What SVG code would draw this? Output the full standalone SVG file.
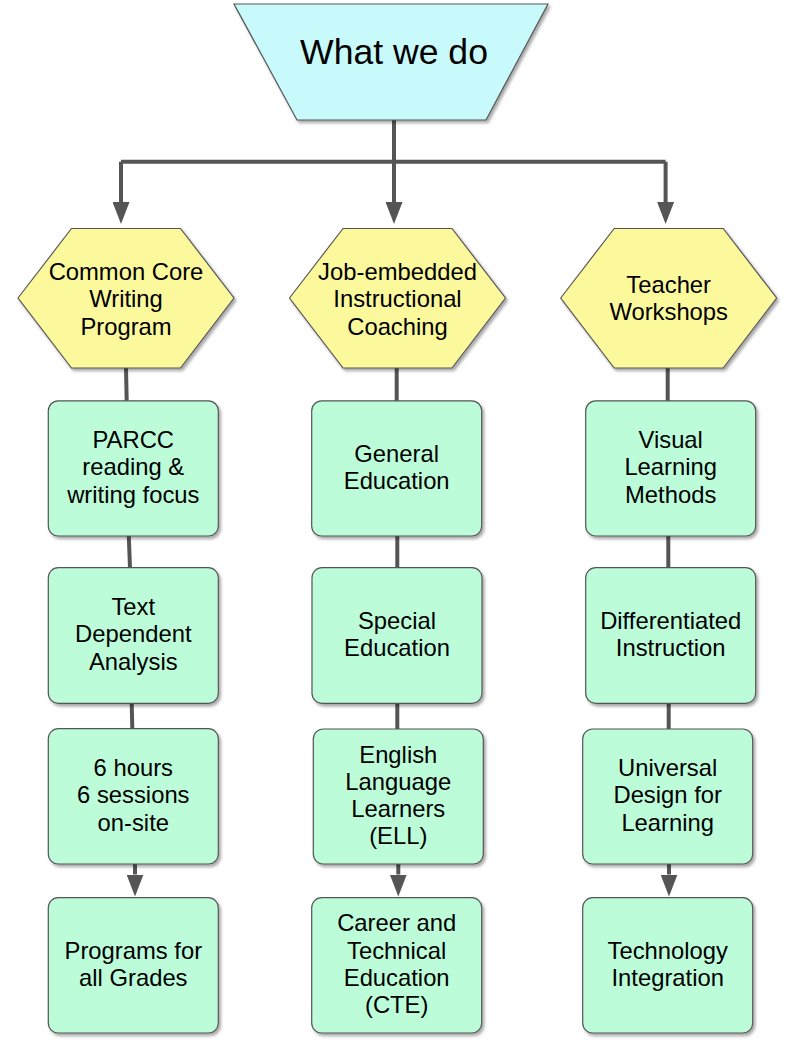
<svg xmlns="http://www.w3.org/2000/svg" width="787" height="1047" viewBox="0 0 787 1047">
<defs>
<filter id="sh" x="-10%" y="-10%" width="130%" height="130%">
<feDropShadow dx="2" dy="2.5" stdDeviation="1.5" flood-color="#000" flood-opacity="0.35"/>
</filter>
<marker id="ah" markerUnits="userSpaceOnUse" markerWidth="23" markerHeight="17" refX="0" refY="8.5" orient="auto" viewBox="0 0 23 17">
<path d="M0,0 L22,8.5 L0,17 z" fill="#555"/>
</marker>
</defs>
<style>
.box{fill:#bcfcd9;stroke:#555;stroke-width:1.2;filter:url(#sh)}
.hex{fill:#fcf99c;stroke:#555;stroke-width:1.2;filter:url(#sh)}
.trap{fill:#c8fafc;stroke:#555;stroke-width:1.2;filter:url(#sh)}
.t{font-family:"Liberation Sans",Arial,sans-serif;font-size:23.8px;fill:#000;text-anchor:middle}
.big{font-size:35.6px}
.c{stroke:#555;stroke-width:4;fill:none}
</style>
<g id="connectors">
<path class="c" d="M394,120 V161.7"/>
<path class="c" d="M121,161.7 H665.6"/>
<path class="c" d="M121,161.7 V202" marker-end="url(#ah)"/>
<path class="c" d="M394,161.7 V202" marker-end="url(#ah)"/>
<path class="c" d="M665.6,161.7 V202" marker-end="url(#ah)"/>
<path class="c" d="M126,368 L126.7,401"/>
<path class="c" d="M128.8,536 L130,568"/>
<path class="c" d="M131.7,703 L132.3,729"/>
<path class="c" d="M135,864 L135,874.5" marker-end="url(#ah)"/>
<path class="c" d="M396.7,368 L396.7,401"/>
<path class="c" d="M397.3,536 L397.3,568"/>
<path class="c" d="M397.3,703 L397.3,729"/>
<path class="c" d="M398.3,864 L398.3,874.5" marker-end="url(#ah)"/>
<path class="c" d="M667.7,368 L667.7,401"/>
<path class="c" d="M668.3,536 L668.3,568"/>
<path class="c" d="M668.7,703 L668.7,729"/>
<path class="c" d="M669,864 L669,874.5" marker-end="url(#ah)"/>
</g>
<g id="root">
<polygon class="trap" points="234,4 548,4 486,120 297,120"/>
<text class="t big" x="394" y="64">What we do</text>
</g>
<g id="hex-ccwp">
<polygon class="hex" points="18,298 71.5,228.5 180.5,228.5 234,298 180.5,368 71.5,368"/>
<text class="t" x="126" y="280">Common Core</text>
<text class="t" x="126" y="307.3">Writing</text>
<text class="t" x="126" y="334.6">Program</text>
</g>
<g id="hex-jeic">
<polygon class="hex" points="289.5,298 343,228.5 452,228.5 505.5,298 452,368 343,368"/>
<text class="t" x="397.5" y="280">Job-embedded</text>
<text class="t" x="397.5" y="307.3">Instructional</text>
<text class="t" x="397.5" y="334.6">Coaching</text>
</g>
<g id="hex-tw">
<polygon class="hex" points="560.7,298 614.2,228.5 723.2,228.5 776.7,298 723.2,368 614.2,368"/>
<text class="t" x="668.7" y="292.5">Teacher</text>
<text class="t" x="668.7" y="319.8">Workshops</text>
</g>
<g id="l1">
<rect class="box" x="48.3" y="400.8" width="170" height="135.2" rx="10"/>
<text class="t" x="133.3" y="448">PARCC</text>
<text class="t" x="133.3" y="475.3">reading &amp;</text>
<text class="t" x="133.3" y="502.6">writing focus</text>
</g>
<g id="l2">
<rect class="box" x="48.3" y="567.7" width="170" height="135.6" rx="10"/>
<text class="t" x="133.3" y="615">Text</text>
<text class="t" x="133.3" y="642.3">Dependent</text>
<text class="t" x="133.3" y="669.6">Analysis</text>
</g>
<g id="l3">
<rect class="box" x="48.3" y="728.7" width="170" height="135.3" rx="10"/>
<text class="t" x="133.3" y="776">6 hours</text>
<text class="t" x="133.3" y="803.3">6 sessions</text>
<text class="t" x="133.3" y="830.6">on-site</text>
</g>
<g id="l4">
<rect class="box" x="48.3" y="897.7" width="170" height="135.3" rx="10"/>
<text class="t" x="133.3" y="958.5">Programs for</text>
<text class="t" x="133.3" y="985.8">all Grades</text>
</g>
<g id="m1">
<rect class="box" x="311.7" y="400.8" width="170" height="135.2" rx="10"/>
<text class="t" x="396.7" y="461.6">General</text>
<text class="t" x="396.7" y="488.9">Education</text>
</g>
<g id="m2">
<rect class="box" x="312" y="567.7" width="170" height="135.6" rx="10"/>
<text class="t" x="397" y="628.6">Special</text>
<text class="t" x="397" y="655.9">Education</text>
</g>
<g id="m3">
<rect class="box" x="313.3" y="729" width="170" height="135" rx="10"/>
<text class="t" x="398.3" y="762.5">English</text>
<text class="t" x="398.3" y="789.8">Language</text>
<text class="t" x="398.3" y="817.1">Learners</text>
<text class="t" x="398.3" y="844.4">(ELL)</text>
</g>
<g id="m4">
<rect class="box" x="311.7" y="897.7" width="170" height="135.3" rx="10"/>
<text class="t" x="396.7" y="931.2">Career and</text>
<text class="t" x="396.7" y="958.5">Technical</text>
<text class="t" x="396.7" y="985.8">Education</text>
<text class="t" x="396.7" y="1013.1">(CTE)</text>
</g>
<g id="r1">
<rect class="box" x="585.7" y="400.8" width="170" height="135.2" rx="10"/>
<text class="t" x="670.7" y="448">Visual</text>
<text class="t" x="670.7" y="475.3">Learning</text>
<text class="t" x="670.7" y="502.6">Methods</text>
</g>
<g id="r2">
<rect class="box" x="585.7" y="567.7" width="170" height="135.6" rx="10"/>
<text class="t" x="670.7" y="628.6">Differentiated</text>
<text class="t" x="670.7" y="655.9">Instruction</text>
</g>
<g id="r3">
<rect class="box" x="582.7" y="729" width="170" height="135" rx="10"/>
<text class="t" x="667.7" y="776">Universal</text>
<text class="t" x="667.7" y="803.3">Design for</text>
<text class="t" x="667.7" y="830.6">Learning</text>
</g>
<g id="r4">
<rect class="box" x="582.7" y="897.7" width="170" height="135.3" rx="10"/>
<text class="t" x="667.7" y="958.5">Technology</text>
<text class="t" x="667.7" y="985.8">Integration</text>
</g>
</svg>
